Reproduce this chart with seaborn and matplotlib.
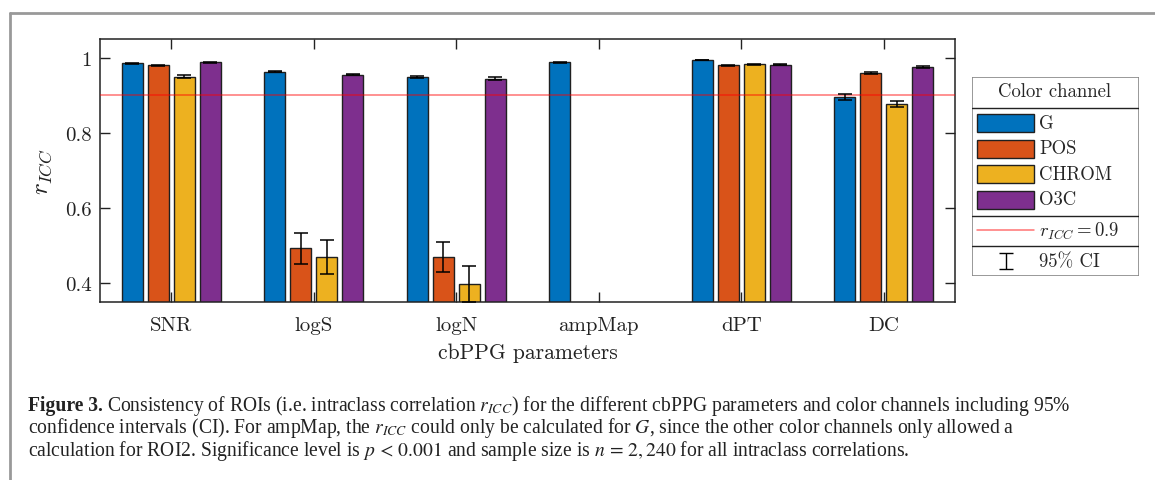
import numpy as np
import pandas as pd
import seaborn as sns
import matplotlib.pyplot as plt
from matplotlib.patches import Rectangle
from matplotlib.lines import Line2D

# data (NaN = not computed)
params = ['SNR', 'logS', 'logN', 'ampMap', 'dPT', 'DC']
channels = ['G', 'POS', 'CHROM', 'O3C']
colors = ['#0072BD', '#D95319', '#EDB120', '#7E2F8E']

icc_G = [0.985, 0.963, 0.948, 0.988, 0.994, 0.896]
icc_POS = [0.980, 0.493, 0.469, np.nan, 0.980, 0.960]
icc_CHROM = [0.950, 0.469, 0.399, np.nan, 0.983, 0.878]
icc_O3C = [0.988, 0.955, 0.944, np.nan, 0.982, 0.976]

# half width of 95% CI
ci_G = [0.002, 0.002, 0.003, 0.002, 0.001, 0.008]
ci_POS = [0.001, 0.041, 0.040, np.nan, 0.001, 0.002]
ci_CHROM = [0.004, 0.045, 0.048, np.nan, 0.001, 0.008]
ci_O3C = [0.001, 0.002, 0.004, np.nan, 0.001, 0.002]

threshold = 0.9

rows = []
for ch, vals, cis in zip(channels, [icc_G, icc_POS, icc_CHROM, icc_O3C],
                         [ci_G, ci_POS, ci_CHROM, ci_O3C]):
    for p, v, c in zip(params, vals, cis):
        rows.append({'param': p, 'channel': ch, 'icc': v, 'ci': c})
df = pd.DataFrame(rows).dropna()

sns.set_style('ticks')
plt.rcParams['font.family'] = ['cmr10', 'DejaVu Serif']
plt.rcParams['mathtext.fontset'] = 'cm'
plt.rcParams['axes.formatter.use_mathtext'] = True

fig = plt.figure(figsize=(11.55, 4.81), dpi=100)
ax = fig.add_axes([100 / 1155, 1 - 303 / 481, 855 / 1155, 263 / 481])

sns.barplot(data=df, x='param', y='icc', hue='channel', order=params,
            hue_order=channels, palette=colors, width=0.73, gap=0.2,
            edgecolor='#202020', linewidth=1, errorbar=None, legend=False,
            saturation=1, ax=ax)

# error bars on top of the bars drawn by seaborn
for ch, cont in zip(channels, ax.containers):
    for bar in cont:
        xc = bar.get_x() + bar.get_width() / 2
        p = params[int(round(xc))]
        r = df[(df.param == p) & (df.channel == ch)].iloc[0]
        ax.errorbar(xc, r.icc, yerr=r.ci, fmt='none', ecolor='black',
                    elinewidth=1.1, capsize=5, capthick=1.1, zorder=5)

ax.axhline(threshold, color='red', alpha=0.55, lw=1.1, zorder=4)

ax.set_xlim(-0.5, 5.5)
ax.set_ylim(0.35, 1.05)
ax.set_yticks([0.4, 0.6, 0.8, 1.0], ['0.4', '0.6', '0.8', '1'])
ax.tick_params(direction='in', length=7, width=1, top=True, right=True,
               labelsize=15, pad=6, colors='#222222')
ax.tick_params(axis='x', pad=10)
for s in ax.spines.values():
    s.set_visible(True)
    s.set_linewidth(1.1)
    s.set_color('#222222')
ax.set_xlabel('cbPPG parameters', fontsize=15.5, labelpad=6, color='#222222')
ax.set_ylabel(r'$r_{ICC}$', fontsize=18, labelpad=8, color='#222222')

# legend box drawn in its own axes (pixel units)
lax = fig.add_axes([972 / 1155, 1 - 277 / 481, 167 / 1155, 199 / 481])
lax.set_xlim(972, 1139)
lax.set_ylim(277, 78)
lax.axis('off')
lax.add_patch(Rectangle((972, 78), 167, 199, fill=False, ec='#888888', lw=1.2))
lax.text(1055, 92, 'Color channel', ha='center', va='center', fontsize=13.5)
for yy in [108.5, 216.5, 246.5]:
    lax.plot([972, 1139], [yy, yy], color='#222222', lw=1)
for i, (ch, col) in enumerate(zip(channels, colors)):
    yc = 124 + i * 25.5
    lax.add_patch(Rectangle((977, yc - 9), 57, 18, fc=col, ec='#202020', lw=1))
    lax.text(1039, yc, ch, va='center', fontsize=13.5)
lax.plot([977, 1034], [231, 231], color='red', alpha=0.55, lw=1.1)
lax.text(1039, 231, r'$r_{ICC}=0.9$', va='center', fontsize=13.5)
lax.errorbar(1006, 262, yerr=8, fmt='none', ecolor='black', elinewidth=1,
             capsize=5, capthick=1)
lax.text(1039, 262, '95% CI', va='center', fontsize=13.5)

# page frame
fig.add_artist(Line2D([10 / 1155, 1], [1 - 14 / 481] * 2, color='#999999', lw=2))
fig.add_artist(Line2D([10 / 1155] * 2, [0, 1 - 14 / 481], color='#999999', lw=2))

# caption
cap_kw = dict(fontsize=14.1, family='Liberation Serif', math_fontfamily='stix',
              va='baseline', color='#222222')
head = fig.text(28 / 1155, 1 - 411 / 481, 'Figure 3.', fontweight='bold', **cap_kw)
fig.canvas.draw()
bb = head.get_window_extent()
fig.text((bb.x1 + 4) / 1155, 1 - 411 / 481,
         r'Consistency of ROIs (i.e. intraclass correlation $r_{ICC}$) for the different cbPPG parameters and color channels including 95%',
         **cap_kw)
fig.text(28 / 1155, 1 - 433.5 / 481,
         r'confidence intervals (CI). For ampMap, the $r_{ICC}$ could only be calculated for $G$, since the other color channels only allowed a',
         **cap_kw)
fig.text(28 / 1155, 1 - 456 / 481,
         r'calculation for ROI2. Significance level is $p\,<\,0.001$ and sample size is $n\,=\,2,240$ for all intraclass correlations.',
         **cap_kw)

fig.savefig('out.png', dpi=100)
